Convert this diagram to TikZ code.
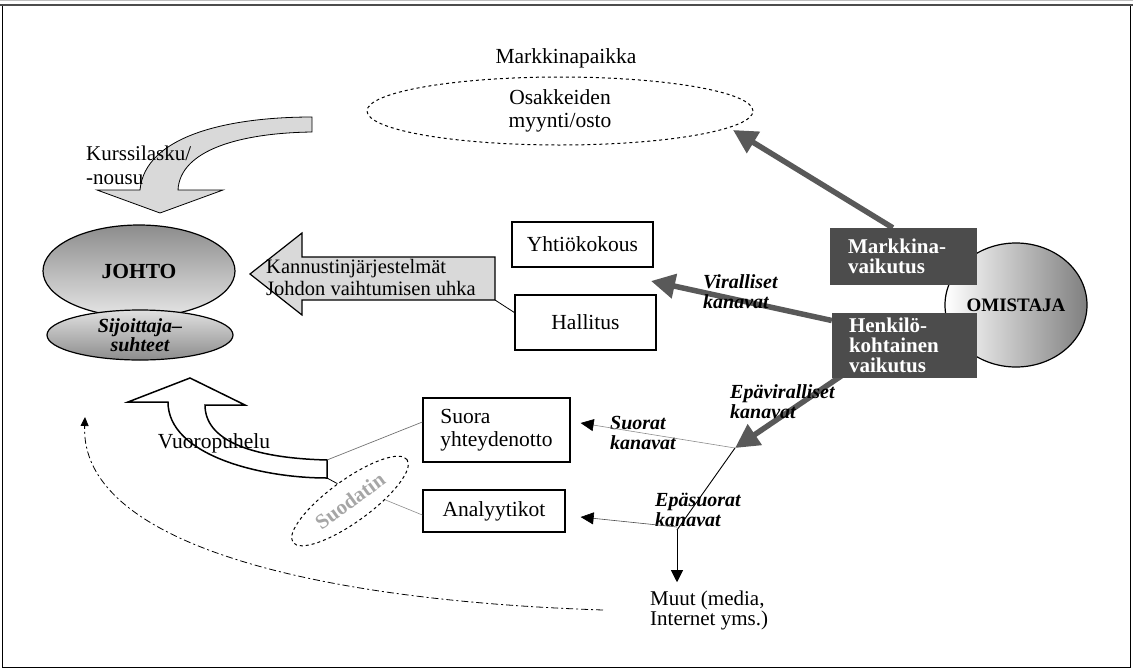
\documentclass[tikz,border=0pt]{standalone}
\usepackage{fontspec}
\setmainfont{Liberation Serif}
\usetikzlibrary{shapes.geometric,arrows.meta,calc}
\pgfdeclarelayer{back}
\pgfsetlayers{back,main}
\newcommand\fsz{\fontsize{21.5}{23}\selectfont}
\begin{document}
\begin{tikzpicture}[x=1pt,y=-1pt,
  txt/.style={font=\fsz, inner sep=0pt, align=left},
  bx/.style={draw=black, line width=1.3pt, fill=white, font=\fsz, align=left, inner sep=0pt},
  dbox/.style={fill=black!70, text=white, font=\fontsize{21}{20}\selectfont\bfseries, align=left, inner sep=0pt},
  lab/.style={font=\fontsize{20}{20}\selectfont\bfseries\itshape, align=left, inner sep=0pt, anchor=west},
  bigarr/.style={draw=black!65, line width=5.5pt, -{Triangle[length=24pt,width=24pt]}},
  thinarr/.style={line width=0.9pt, -{Triangle[length=12pt,width=12pt]}},
  grayline/.style={draw=black!45, line width=0.6pt},
  blockarrow/.style={fill=black!15, draw=black}
]
\useasboundingbox (0,0) rectangle (1133,670);
\draw[black!25, line width=1pt] (0,0.5) -- (1133,0.5);
\draw[line width=0.8pt] (2,5) rectangle (1130,667);
\draw[black!70, line width=2pt] (0,5) -- (1133,5);

% market place
\node[txt] (mp) at (566,58) {Markkinapaikka};
\node[ellipse, draw, dashed, line width=1pt, minimum width=386, minimum height=68, inner sep=0pt, font=\fsz, align=center] (osto) at (560,111) {Osakkeiden\\myynti/osto};

% Kurssilasku arrow
\filldraw[blockarrow, line width=0.8pt] (312,117) .. controls (230,117) and (145,135) .. (140,190) -- (97,190) -- (160,213) -- (223,190) -- (178,190) .. controls (180,150) and (240,133) .. (312,132) -- cycle;
\node[txt, anchor=west, font=\fontsize{21}{24}\selectfont] (kurssi) at (86,165) {Kurssilasku/\\-nousu};

% JOHTO
\node[ellipse, draw, line width=1.2pt, top color=black!45, bottom color=black!10, minimum width=192, minimum height=92, inner sep=0pt, font=\fsz\bfseries] (johto) at (139,271) {JOHTO};
\node[ellipse, draw, line width=1.2pt, top color=black!12, bottom color=black!45, minimum width=186, minimum height=50, inner sep=0pt, font=\fontsize{20}{18}\selectfont\bfseries\itshape, align=center] (sijo) at (140,335) {Sijoittaja–\\suhteet};

% Kannustin arrow
\filldraw[blockarrow, line width=1.2pt] (250,274) -- (302,233) -- (302,257) -- (495,257) -- (495,300) coordinate (kcorner) -- (302,300) -- (302,315) -- cycle;
\node[txt, anchor=west, font=\fontsize{20.5}{22}\selectfont] (kann) at (266,277) {Kannustinjärjestelmät\\Johdon vaihtumisen uhka};

% boxes
\node[bx, minimum width=141, minimum height=45] (yht) at (582.5,244.5) {Yhtiökokous};
\node[bx, minimum width=141, minimum height=55] (hal) at (585.5,322.5) {Hallitus};
\node[bx, minimum width=147, minimum height=64] (suora) at (496.5,430) {Suora\\yhteydenotto};
\node[bx, minimum width=142, minimum height=42] (ana) at (494,511) {Analyytikot};

% owner
\node[ellipse, draw, line width=1.2pt, left color=white, right color=black!50, minimum width=142, minimum height=124, inner sep=0pt, font=\fontsize{19}{20}\selectfont\bfseries] (om) at (1016,305) {OMISTAJA};
\node[dbox, minimum width=147, minimum height=57, text width=111pt] (mv) at (903.5,256.5) {Markkina-\\vaikutus};
\node[dbox, minimum width=145, minimum height=65, text width=111pt] (hk) at (904.5,345.5) {Henkilö-\\kohtainen\\vaikutus};

% channel labels
\node[lab] (vir) at (703,292) {Viralliset\\kanavat};
\node[lab] (epv) at (730,402) {Epäviralliset\\kanavat};
\node[lab] (suk) at (610,433) {Suorat\\kanavat};
\node[lab] (eps) at (655,510) {Epäsuorat\\kanavat};

% Vuoropuhelu arrow
\filldraw[fill=white, draw=black, line width=1.5pt] (190,378) -- (128,402) -- (168,402) .. controls (168,455) and (260,478) .. (327,478) coordinate (vend2) -- (327,460) coordinate (vend1) .. controls (250,458) and (205,440) .. (205,405) -- (245,405) -- cycle;
\node[txt] (vuoro) at (214,443) {Vuoropuhelu};

% filter
\node[ellipse, draw, dashed, line width=1pt, rotate=36, minimum width=141, minimum height=42, inner sep=0pt, text=black!35, font=\fontsize{21}{20}\selectfont\bfseries] (suod) at (350,501) {Suodatin};

% others
\node[txt, anchor=west, font=\fontsize{21}{18}\selectfont] (muut) at (650,610) {Muut (media,\\Internet yms.)};

\coordinate (j) at (735,448);
\coordinate (j2) at (677,530);
\coordinate (mvtip) at (733,130);
\coordinate (haltip) at (651,281);
\coordinate (dtip) at (85,417);

\begin{pgfonlayer}{back}
\draw[bigarr] ($(mv.north west)+(63,0)$) -- (mvtip);
\draw[bigarr] ($(hk.west)+(0,-25)$) -- (haltip);
\draw[bigarr] ($(hk.south west)+(12,-4)$) -- (j);
\end{pgfonlayer}

\draw[grayline, -{Triangle[length=13pt,width=12pt,color=black]}] (j) -- ($(suora.east)+(10,-7)$);
\draw[line width=0.9pt] (j) -- (j2);
\draw[thinarr] (j2) -- ($(j2 |- muut.north)+(0,-8)$);
\draw[line width=0.6pt, black!70, -{Triangle[length=13pt,width=12pt,color=black]}] ($(j2)+(0,-3)$) -- ($(ana.east)+(15,6)$);

\draw[dash pattern=on 7pt off 3pt on 2pt off 3pt, line width=0.8pt, -{Triangle[length=9pt,width=8pt]}] ($(muut.west)+(-47,0)$) .. controls (300,600) and (80,540) .. (dtip);

\draw[black!55, line width=0.7pt] (vend1) -- ($(suora.west)+(0,-8)$);
\draw[line width=0.8pt] (vend2) -- (suod.north);
\draw[grayline] ($(ana.west)+(0,4)$) -- (suod.-34);
\draw[line width=0.8pt] (kcorner) -- ($(hal.west)+(0,-10)$);
\end{tikzpicture}
\end{document}
